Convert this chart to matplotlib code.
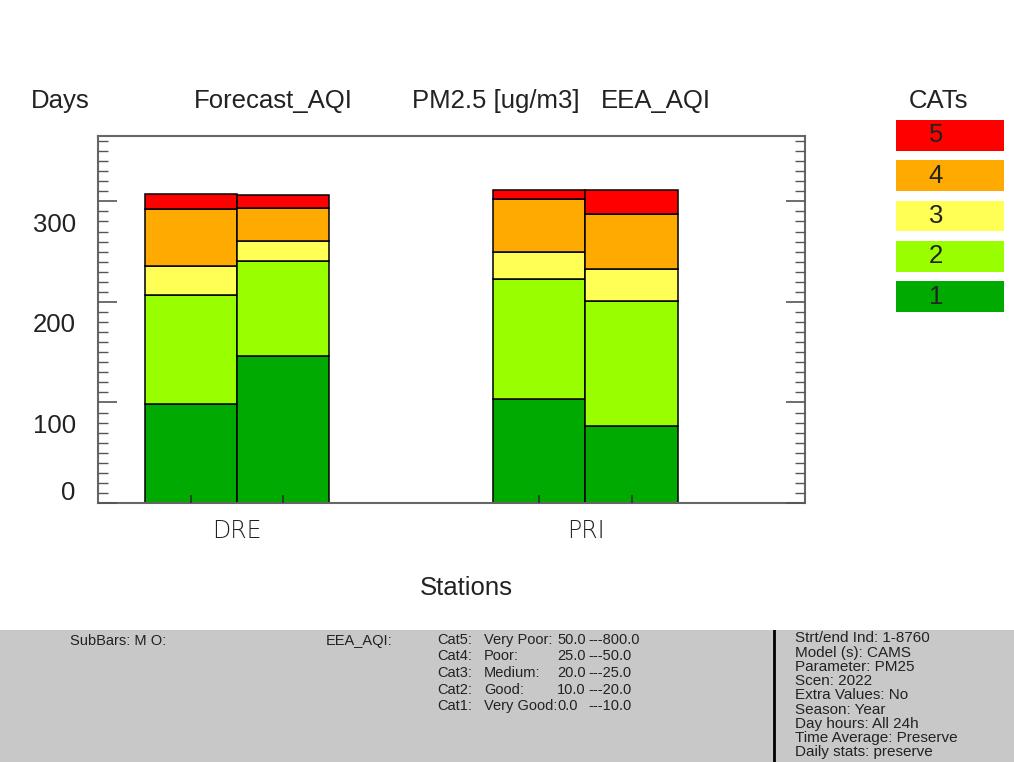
"""
Stacked AQI category days per station (forecast vs EEA)
"""

import numpy as np
import matplotlib
matplotlib.use('Agg')
import matplotlib.pyplot as plt
from matplotlib.transforms import ScaledTranslation

stations = ['DRE', 'PRI']
categories = ['1', '2', '3', '4', '5']

# days per category, sub bar M (Forecast_AQI) and O (EEA_AQI)
daysM = {'DRE': [98, 109, 29, 56, 15],
         'PRI': [103, 120, 27, 52, 9]}
daysO = {'DRE': [146, 95, 20, 32, 13],
         'PRI': [77, 124, 32, 54, 24]}

catColors = ['#00AA00', '#99FF00', '#FFFF55', '#FFAA00', '#FF0000']

yTicks = [0, 100, 200, 300]
infoLeft = 'SubBars: M O:'
infoIndex = 'EEA_AQI:'
catNames = ['Cat5:', 'Cat4:', 'Cat3:', 'Cat2:', 'Cat1:']
catDescr = ['Very Poor:', 'Poor:', 'Medium:', 'Good:', 'Very Good:']
catLow = ['50.0', '25.0', '20.0', '10.0', '0.0']
catHigh = ['---800.0', '---50.0', '---25.0', '---20.0', '---10.0']
infoRight = ['Strt/end Ind: 1-8760', 'Model (s): CAMS', 'Parameter: PM25', 'Scen: 2022',
             'Extra Values: No', 'Season: Year', 'Day hours: All 24h',
             'Time Average: Preserve', 'Daily stats: preserve']

TXT = '#222222'
plt.rcParams['font.family'] = ['Liberation Sans', 'DejaVu Sans']
NARROW = ['Liberation Sans Narrow', 'Liberation Sans', 'DejaVu Sans']
FS = 18.5
PFS = 10.5

W, H = 1014, 762
fig = plt.figure(figsize=(W / 100, H / 100), dpi=100)
fig.patch.set_facecolor('white')


def fx(px):
    return px / W


def fy(py):
    return 1 - py / H


# main axes
ax = fig.add_axes([fx(98), fy(503), fx(805) - fx(98), fy(136) - fy(503)])
x = np.arange(len(stations))
barW = 0.265
for offs, data in [(-barW / 2, daysM), (barW / 2, daysO)]:
    bottom = np.zeros(len(stations))
    for ci in range(len(categories)):
        vals = np.array([data[s][ci] for s in stations])
        ax.bar(x + offs, vals, barW, bottom=bottom, color=catColors[ci],
               edgecolor='black', linewidth=1.1, zorder=2)
        bottom += vals

ax.set_axisbelow(False)
ax.set_xlim(-0.399, 1.63)
ax.set_ylim(0, 365)
ax.set_yticks(yTicks)
ax.set_yticks(np.arange(0, 366, 10), minor=True)
ax.set_yticklabels([str(t) for t in yTicks], fontsize=FS, color=TXT)
ax.set_xticks(np.concatenate([x - barW / 2, x + barW / 2]))
ax.set_xticklabels([])
ax.tick_params(axis='y', which='major', direction='in', length=14, width=1.2,
               left=True, right=True, color='#555555', pad=16)
ax.tick_params(axis='y', which='minor', direction='in', length=7, width=1,
               left=True, right=True, color='#555555')
ax.tick_params(axis='x', which='major', direction='in', length=6, width=1.2, color='#333333')
for sp in ax.spines.values():
    sp.set_color('#666666')
    sp.set_linewidth(1.5)

# this software puts value labels a bit off the tick
for lab, t in zip(ax.get_yticklabels(), yTicks):
    dy = 9 / 72 if t == 0 else -15 / 72
    lab.set_transform(lab.get_transform() + ScaledTranslation(0, dy, fig.dpi_scale_trans))

for s, xs in zip(stations, x):
    ax.text(xs, -28, s, ha='center', va='center', fontsize=17, color=TXT,
            family=['DejaVu Sans'], fontweight='light')

fig.text(fx(466), fy(588), 'Stations', ha='center', va='center', fontsize=FS, color=TXT)
fig.text(fx(60), fy(101), 'Days', ha='center', va='center', fontsize=FS, color=TXT)
fig.text(fx(273), fy(101), 'Forecast_AQI', ha='center', va='center', fontsize=FS, color=TXT)
fig.text(fx(496), fy(101), 'PM2.5 [ug/m3]', ha='center', va='center', fontsize=FS, color=TXT)
fig.text(fx(656), fy(101), 'EEA_AQI', ha='center', va='center', fontsize=FS, color=TXT)
fig.text(fx(939), fy(101), 'CATs', ha='center', va='center', fontsize=FS, color=TXT)

# legend boxes
lax = fig.add_axes([fx(896), fy(312), fx(1004) - fx(896), fy(120) - fy(312)])
lax.barh(np.arange(len(categories)), 1, height=0.77, color=catColors, left=0)
for i, c in enumerate(categories):
    lax.text(0.37, i, c, ha='center', va='center', fontsize=FS, color=TXT)
lax.set_xlim(0, 1)
lax.set_ylim(-0.385, len(categories) - 0.615)
lax.axis('off')

# info panel at the bottom
pax = fig.add_axes([0, 0, 1, 132 / H])
pax.set_facecolor('#C8C8C8')
pax.set_xlim(0, W)
pax.set_ylim(H, H - 132)
pax.set_xticks([])
pax.set_yticks([])
for sp in pax.spines.values():
    sp.set_visible(False)
pax.axvline(774, color='black', lw=2)

pax.text(70, 641, infoLeft, fontsize=PFS, family=NARROW, va='center', color=TXT)
pax.text(326, 641, infoIndex, fontsize=PFS, family=NARROW, va='center', color=TXT)
for i in range(len(catNames)):
    yy = 640 + 16.5 * i
    pax.text(437, yy, catNames[i], fontsize=PFS, family=NARROW, va='center', color=TXT)
    pax.text(484, yy, catDescr[i], fontsize=PFS, family=NARROW, va='center', color=TXT)
    pax.text(557, yy, catLow[i], fontsize=PFS, family=NARROW, va='center', color=TXT)
    pax.text(588, yy, catHigh[i], fontsize=PFS, family=NARROW, va='center', color=TXT)
for i, line in enumerate(infoRight):
    pax.text(795, 638.5 + 14.2 * i, line, fontsize=11, family=NARROW, va='center',
             color=TXT, clip_on=True)

fig.savefig('out.png', dpi=100)
